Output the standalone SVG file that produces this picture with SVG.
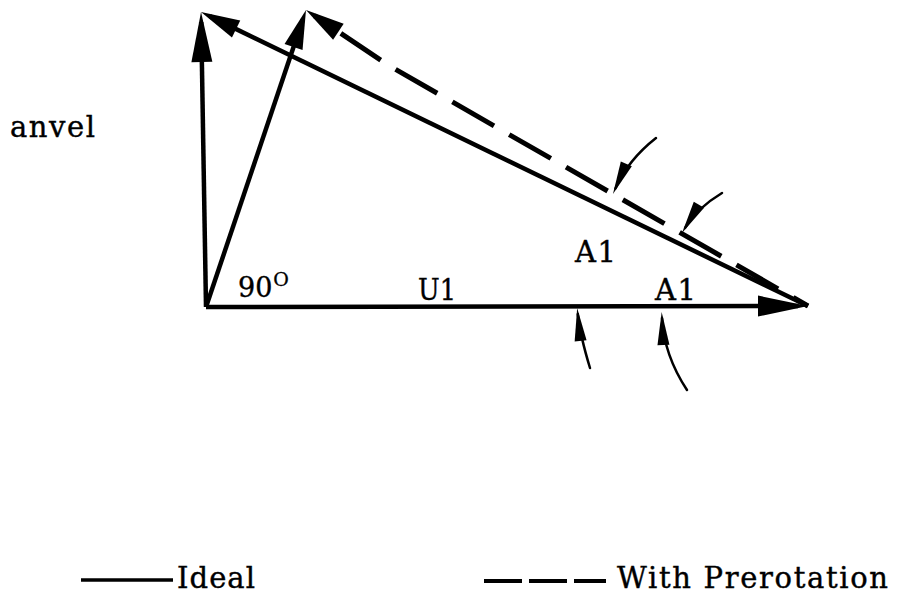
<svg xmlns="http://www.w3.org/2000/svg" width="897" height="608" viewBox="0 0 897 608">
<style>
  .bg { fill: #ffffff; }
  .vec { fill: none; stroke: #000; stroke-width: 4.5; stroke-linecap: butt; stroke-linejoin: round; }
  .dash { fill: none; stroke: #000; stroke-width: 5; stroke-dasharray: 48 17.5; stroke-dashoffset: 31; stroke-linejoin: round; }
  .pointer { fill: none; stroke: #000; stroke-width: 2.5; stroke-linecap: round; }
  .lbl { font-family: "DejaVu Serif", "Liberation Serif", serif; font-size: 29px; fill: #000; stroke: #000; stroke-width: 0.4; }
  .deg { font-size: 27px; }
  .sup { font-size: 19px; stroke-width: 0.3; }
  .legline { fill: none; stroke: #000; stroke-width: 3.5; }
  .legdash { fill: none; stroke: #000; stroke-width: 4; stroke-dasharray: 38 7; }
</style>
<defs>
  <marker id="headL" markerUnits="userSpaceOnUse" markerWidth="60" markerHeight="30" refX="-10" refY="0" orient="auto" overflow="visible">
    <path d="M0,0 L-50,-10.5 L-50,10.5 Z" fill="#000"/>
  </marker>
  <marker id="headM" markerUnits="userSpaceOnUse" markerWidth="50" markerHeight="30" refX="-10" refY="0" orient="auto" overflow="visible">
    <path d="M0,0 L-39,-9.5 L-39,9.5 Z" fill="#000"/>
  </marker>
  <marker id="headT" markerUnits="userSpaceOnUse" markerWidth="40" markerHeight="20" refX="-6" refY="0" orient="auto" overflow="visible">
    <path d="M0,0 L-33,-6 L-33,6 Z" fill="#000"/>
  </marker>
</defs>
<rect class="bg" x="0" y="0" width="897" height="608"/>

<g id="connectors">
  <path id="ideal-vertical" class="vec" d="M206,307 L201.2,22" marker-end="url(#headL)"/>
  <path id="prerot-vertical" class="vec" d="M206,307 L302.8,19.5" marker-end="url(#headM)"/>
  <path id="ideal-w" class="vec" d="M808,306 L210,16.4" marker-end="url(#headM)"/>
  <path id="prerot-w" class="dash" d="M808,306 L388,65 L314.3,15.6" marker-end="url(#headM)"/>
  <path id="u1" class="vec" d="M206,307 L798,306" marker-end="url(#headL)"/>
  <path id="ptr-a1-upper-1" class="pointer" d="M656,138 Q628,160 615.4,188.5" marker-end="url(#headT)"/>
  <path id="ptr-a1-upper-2" class="pointer" d="M722,193 Q697,208 685.1,227.9" marker-end="url(#headT)"/>
  <path id="ptr-a1-lower-1" class="pointer" d="M590,368 Q580,335 577.8,314" marker-end="url(#headT)"/>
  <path id="ptr-a1-lower-2" class="pointer" d="M687,390 Q664,355 662,318" marker-end="url(#headT)"/>
</g>

<g id="label-anvel"><text class="lbl" x="10" y="137" textLength="85" lengthAdjust="spacing">anvel</text></g>
<g id="label-90"><text class="lbl deg" x="238" y="297">90<tspan class="sup" dx="1" dy="-11">O</tspan></text></g>
<g id="label-u1"><text class="lbl" x="418" y="300" textLength="38" lengthAdjust="spacingAndGlyphs">U1</text></g>
<g id="label-a1-upper"><text class="lbl" x="575" y="262" textLength="41" lengthAdjust="spacing">A1</text></g>
<g id="label-a1-lower"><text class="lbl" x="655" y="300" textLength="41" lengthAdjust="spacing">A1</text></g>

<g id="legend-ideal">
  <path class="legline" d="M81,580 L173,580"/>
  <text class="lbl" x="177" y="588" textLength="78" lengthAdjust="spacing">Ideal</text>
</g>
<g id="legend-prerotation">
  <path class="legdash" d="M484,581 L606,581"/>
  <text class="lbl" x="617" y="588" textLength="271" lengthAdjust="spacing">With Prerotation</text>
</g>
</svg>
